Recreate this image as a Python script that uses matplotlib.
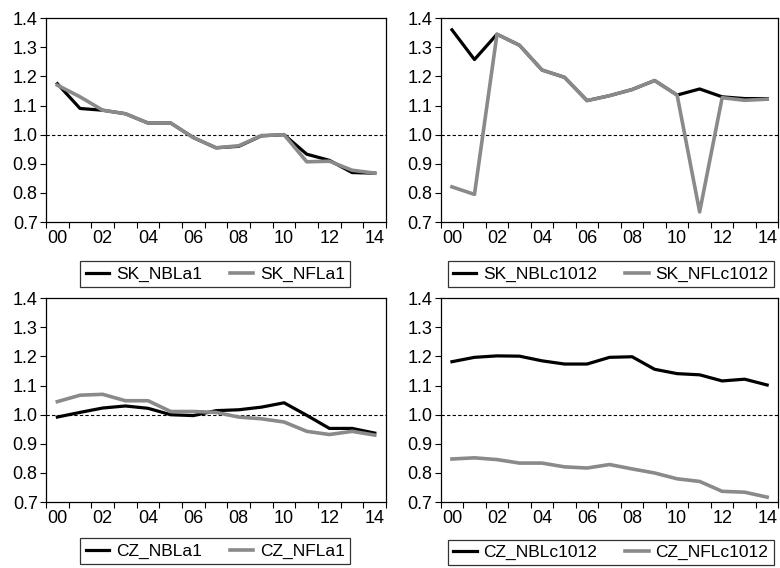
import numpy as np
import matplotlib
matplotlib.use("Agg")
import matplotlib.pyplot as plt
from matplotlib.ticker import FixedLocator, FixedFormatter

plt.rcParams['font.family'] = ['Liberation Sans', 'DejaVu Sans']

years = np.arange(15)
year_labels = ['00', '02', '04', '06', '08', '10', '12', '14']

sk_nbla1 = [1.175, 1.090, 1.084, 1.072, 1.040, 1.040, 0.990, 0.955, 0.960, 0.996,
            1.000, 0.933, 0.912, 0.870, 0.868]
sk_nfla1 = [1.170, 1.130, 1.084, 1.072, 1.040, 1.040, 0.990, 0.955, 0.962, 0.997,
            1.000, 0.907, 0.909, 0.878, 0.868]

sk_nblc1012 = [1.360, 1.258, 1.345, 1.307, 1.222, 1.197, 1.117, 1.134, 1.155, 1.186,
               1.136, 1.157, 1.130, 1.124, 1.124]
sk_nflc1012 = [0.821, 0.795, 1.345, 1.307, 1.222, 1.197, 1.117, 1.134, 1.155, 1.186,
               1.136, 0.735, 1.127, 1.118, 1.122]

cz_nbla1 = [0.992, 1.008, 1.023, 1.030, 1.022, 1.000, 0.997, 1.014, 1.017, 1.026,
            1.041, 0.998, 0.953, 0.953, 0.937]
cz_nfla1 = [1.045, 1.067, 1.070, 1.048, 1.048, 1.011, 1.011, 1.008, 0.992, 0.986,
            0.975, 0.943, 0.932, 0.943, 0.930]

cz_nblc1012 = [1.182, 1.197, 1.202, 1.201, 1.185, 1.174, 1.174, 1.197, 1.199, 1.156,
               1.141, 1.137, 1.116, 1.122, 1.102]
cz_nflc1012 = [0.848, 0.852, 0.846, 0.834, 0.834, 0.821, 0.817, 0.829, 0.814, 0.800,
               0.780, 0.771, 0.737, 0.734, 0.717]

panels = [
    ([0.059, 0.609, 0.436, 0.359], sk_nbla1, sk_nfla1, 'SK_NBLa1', 'SK_NFLa1', (0.276, 0.540)),
    ([0.565, 0.609, 0.433, 0.359], sk_nblc1012, sk_nflc1012, 'SK_NBLc1012', 'SK_NFLc1012', (0.783, 0.540)),
    ([0.059, 0.116, 0.436, 0.359], cz_nbla1, cz_nfla1, 'CZ_NBLa1', 'CZ_NFLa1', (0.276, 0.052)),
    ([0.565, 0.116, 0.433, 0.359], cz_nblc1012, cz_nflc1012, 'CZ_NBLc1012', 'CZ_NFLc1012', (0.783, 0.050)),
]

fig = plt.figure(figsize=(7.8, 5.68), dpi=100)

for rect, black, grey, lab_b, lab_g, leg_pos in panels:
    ax = fig.add_axes(rect)
    ax.axhline(1.0, color='black', lw=0.8, ls=(0, (3, 2)), zorder=1)
    l1, = ax.plot(years, black, color='black', lw=2.3, label=lab_b, zorder=2)
    l2, = ax.plot(years, grey, color='#8a8a8a', lw=2.6, label=lab_g, zorder=3)
    ax.set_xlim(-0.5, 14.5)
    ax.set_ylim(0.7, 1.4)
    ax.set_yticks(np.arange(0.7, 1.41, 0.1))
    ax.set_yticklabels(['%.1f' % v for v in np.arange(0.7, 1.41, 0.1)])
    # tick marks between years, labels at even years
    ax.xaxis.set_major_locator(FixedLocator(np.arange(-0.5, 15, 1.0)))
    ax.xaxis.set_major_formatter(FixedFormatter([''] * 16))
    ax.xaxis.set_minor_locator(FixedLocator(np.arange(0, 15, 2)))
    ax.xaxis.set_minor_formatter(FixedFormatter(year_labels))
    ax.tick_params(axis='x', which='major', length=4, width=0.8, direction='out')
    ax.tick_params(axis='x', which='minor', length=0, labelsize=13, pad=6)
    ax.tick_params(axis='y', length=4, width=0.8, direction='out', labelsize=13, pad=2)
    for s in ax.spines.values():
        s.set_linewidth(0.9)
    leg = fig.legend(handles=[l1, l2], loc='upper center', bbox_to_anchor=leg_pos,
                     ncol=2, fontsize=12.5, frameon=True, fancybox=False,
                     edgecolor='black', handlelength=1.35, handletextpad=0.4,
                     columnspacing=1.6, borderpad=0.3, borderaxespad=0)
    leg.get_frame().set_linewidth(0.9)

fig.savefig('out.png', dpi=100)
